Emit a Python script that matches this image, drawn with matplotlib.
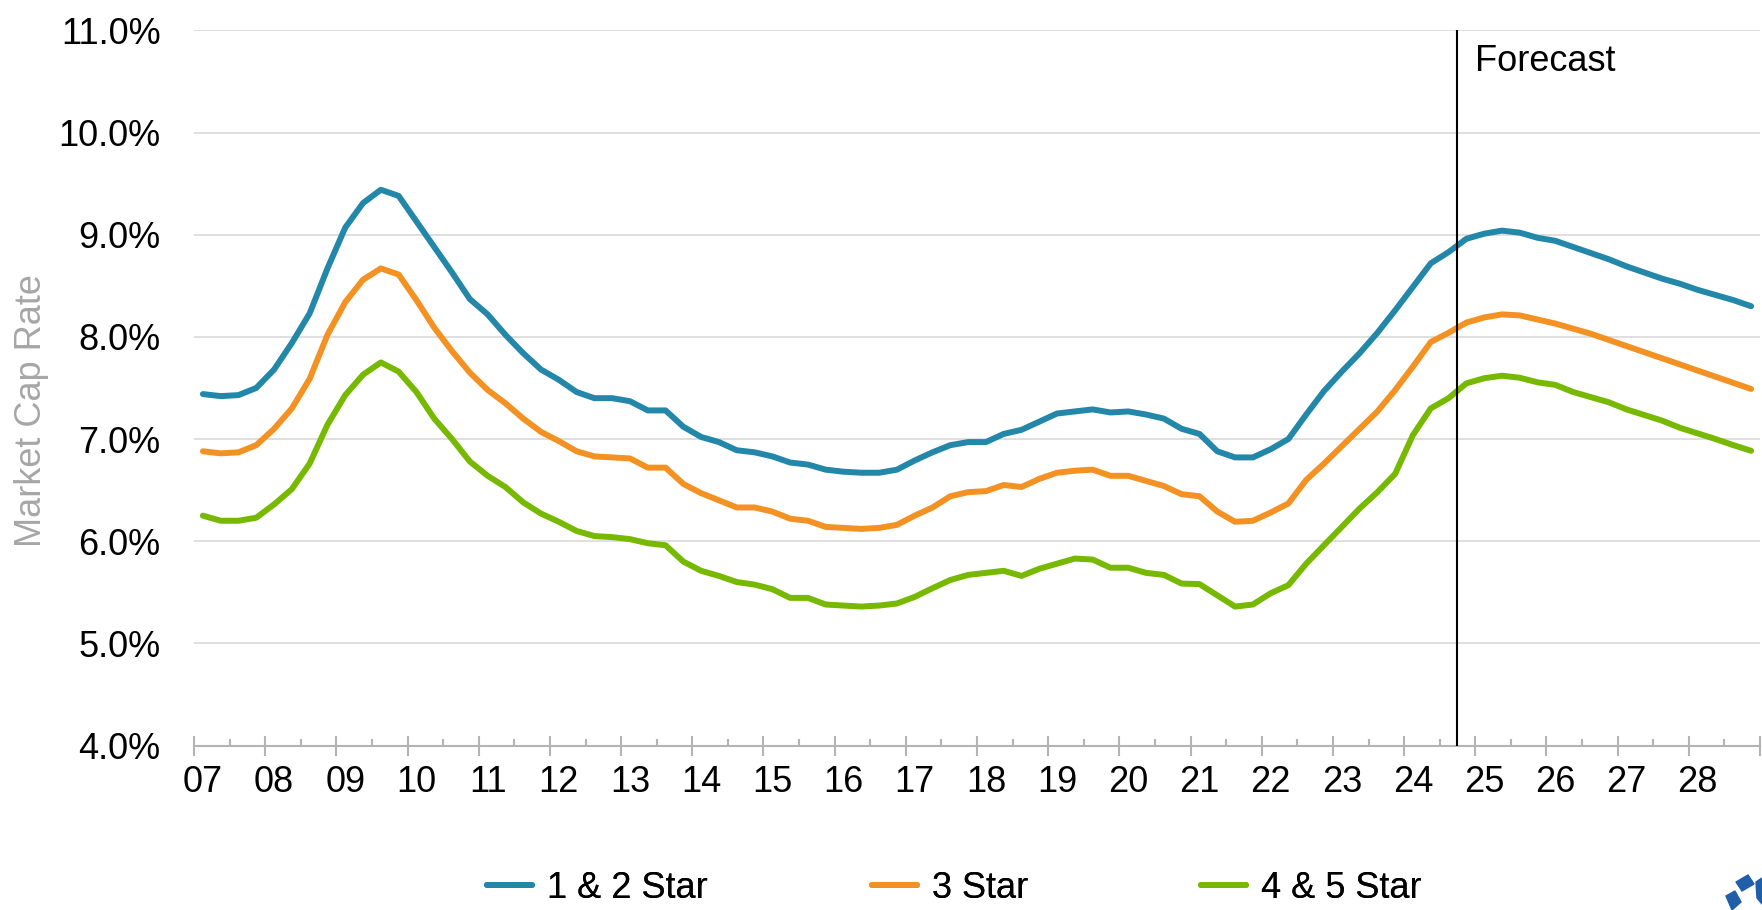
import numpy as np
import matplotlib
matplotlib.use('Agg')
import matplotlib.pyplot as plt
from matplotlib.lines import Line2D
from matplotlib.patches import Polygon
from matplotlib.ticker import FixedLocator, FuncFormatter

plt.rcParams['font.family'] = ['Liberation Sans', 'DejaVu Sans']

# 季度数据：2007Q1 - 2028Q4，共 88 个点
year_labels = ['07', '08', '09', '10', '11', '12', '13', '14', '15', '16', '17',
               '18', '19', '20', '21', '22', '23', '24', '25', '26', '27', '28']

star_12 = [7.44, 7.42, 7.43, 7.50, 7.68, 7.94, 8.23, 8.67, 9.07, 9.31, 9.44, 9.38,
           9.13, 8.88, 8.63, 8.37, 8.22, 8.02, 7.84, 7.68, 7.58, 7.46, 7.40, 7.40,
           7.37, 7.28, 7.28, 7.12, 7.02, 6.97, 6.89, 6.87, 6.83, 6.77, 6.75, 6.70,
           6.68, 6.67, 6.67, 6.70, 6.79, 6.87, 6.94, 6.97, 6.97, 7.05, 7.09, 7.17,
           7.25, 7.27, 7.29, 7.26, 7.27, 7.24, 7.20, 7.10, 7.05, 6.88, 6.82, 6.82,
           6.90, 7.00, 7.24, 7.47, 7.66, 7.84, 8.04, 8.26, 8.49, 8.72, 8.83, 8.96,
           9.01, 9.04, 9.02, 8.97, 8.94, 8.88, 8.82, 8.76, 8.69, 8.63, 8.57, 8.52,
           8.46, 8.41, 8.36, 8.30]

star_3 = [6.88, 6.86, 6.87, 6.94, 7.10, 7.30, 7.59, 8.02, 8.34, 8.56, 8.67, 8.61,
          8.36, 8.09, 7.86, 7.65, 7.48, 7.35, 7.20, 7.07, 6.98, 6.88, 6.83, 6.82,
          6.81, 6.72, 6.72, 6.56, 6.47, 6.40, 6.33, 6.33, 6.29, 6.22, 6.20, 6.14,
          6.13, 6.12, 6.13, 6.16, 6.25, 6.33, 6.44, 6.48, 6.49, 6.55, 6.53, 6.61,
          6.67, 6.69, 6.70, 6.64, 6.64, 6.59, 6.54, 6.46, 6.44, 6.29, 6.19, 6.20,
          6.28, 6.37, 6.60, 6.76, 6.93, 7.10, 7.27, 7.48, 7.71, 7.95, 8.04, 8.14,
          8.19, 8.22, 8.21, 8.17, 8.13, 8.08, 8.03, 7.97, 7.91, 7.85, 7.79, 7.73,
          7.67, 7.61, 7.55, 7.49]

star_45 = [6.25, 6.20, 6.20, 6.23, 6.36, 6.51, 6.76, 7.14, 7.43, 7.63, 7.75, 7.66,
           7.46, 7.20, 7.00, 6.78, 6.64, 6.53, 6.38, 6.27, 6.19, 6.10, 6.05, 6.04,
           6.02, 5.98, 5.96, 5.80, 5.71, 5.66, 5.60, 5.575, 5.53, 5.445, 5.445, 5.38,
           5.37, 5.36, 5.37, 5.39, 5.455, 5.54, 5.62, 5.67, 5.69, 5.71, 5.66, 5.73,
           5.78, 5.83, 5.82, 5.74, 5.74, 5.69, 5.67, 5.585, 5.58, 5.47, 5.36, 5.38,
           5.49, 5.57, 5.78, 5.96, 6.14, 6.32, 6.48, 6.66, 7.04, 7.30, 7.40, 7.545,
           7.595, 7.62, 7.60, 7.555, 7.53, 7.46, 7.41, 7.36, 7.29, 7.235, 7.18, 7.11,
           7.055, 7.00, 6.94, 6.885]

series_names = ['1 & 2 Star', '3 Star', '4 & 5 Star']
series_colors = ['#2287A8', '#F39223', '#76B900']
forecast_start = 70.5   # 2024Q3 与 2024Q4 之间

FS = 26
LW = 4.3
GRAY_AXIS = '#b4b4b4'

fig = plt.figure(figsize=(17.62, 9.10), dpi=100)
ax = fig.add_axes([194 / 1762, 1 - 745.5 / 910, 1566 / 1762, 715.1 / 910])

n = len(star_12)
x = np.arange(n)
handles = []
for vals, name, color in zip([star_12, star_3, star_45], series_names, series_colors):
    line, = ax.plot(x, vals, color=color, lw=LW, solid_capstyle='round',
                    solid_joinstyle='round', label=name, zorder=3)
    handles.append(line)

ax.set_xlim(-0.5, n - 0.5)
ax.set_ylim(4.0, 11.0)
ax.set_yticks(np.arange(4.0, 11.01, 1.0))
ax.yaxis.set_major_formatter(FuncFormatter(lambda v, p: f'{v:.1f}%'))
ax.tick_params(axis='y', length=0, pad=24, labelsize=FS, labelcolor='black')
ax.grid(axis='y', color='#d9d9d9', lw=1.2, zorder=0)
ax.set_axisbelow(True)

# 年份刻度：年份分界处为主刻度（穿轴），半年处为次刻度
ax.xaxis.set_major_locator(FixedLocator(np.arange(-0.5, n, 4)))
ax.xaxis.set_minor_locator(FixedLocator(np.arange(1.5, n, 4)))
ax.tick_params(axis='x', which='major', direction='inout', length=15, width=1.5,
               color=GRAY_AXIS, labelbottom=False)
ax.tick_params(axis='x', which='minor', direction='in', length=5, width=1.5,
               color=GRAY_AXIS)

# 年份标签放在每年第一季度的位置
sec = ax.secondary_xaxis('bottom')
sec.set_xticks(np.arange(0, n, 4), year_labels)
sec.tick_params(length=0, pad=14, labelsize=FS)
sec.spines['bottom'].set_visible(False)

for side in ['left', 'right', 'top']:
    ax.spines[side].set_visible(False)
ax.spines['bottom'].set_color(GRAY_AXIS)
ax.spines['bottom'].set_linewidth(1.5)

ax.set_ylabel('Market Cap Rate', fontsize=FS, color='#a6a6a6')
ax.yaxis.label.set_verticalalignment('center')
ax.yaxis.set_label_coords(-0.1035, 0.468)

# 预测分界线
ax.axvline(forecast_start, color='black', lw=1.5, zorder=4)
ax.text(forecast_start + 1.0, 10.6, 'Forecast', fontsize=FS, va='baseline', ha='left')

# 图例（底部三项）
legend_x = [487, 872, 1201]
for h, lx in zip(handles, legend_x):
    proxy = Line2D([0], [0], color=h.get_color(), lw=LW, solid_capstyle='round')
    leg = fig.legend(handles=[proxy], labels=[h.get_label()], loc='center left',
                     bbox_to_anchor=(lx / 1762, 1 - 888 / 910), frameon=False,
                     fontsize=FS, handlelength=1.25, handletextpad=0.4,
                     borderpad=0, borderaxespad=0)
    fig.add_artist(leg)

# 右下角 logo 残影
logo_shapes = [
    [(1726, 896), (1735, 891), (1741, 902), (1732, 910)],
    [(1736, 882), (1748, 875), (1754, 884), (1742, 891)],
    [(1756, 882), (1762, 878), (1762, 904), (1757, 898)],
]
for pts in logo_shapes:
    fig.add_artist(Polygon([(px / 1762, 1 - py / 910) for px, py in pts],
                           closed=True, color='#1F5FA8', transform=fig.transFigure))

fig.savefig('out.png', dpi=100, facecolor='white')
